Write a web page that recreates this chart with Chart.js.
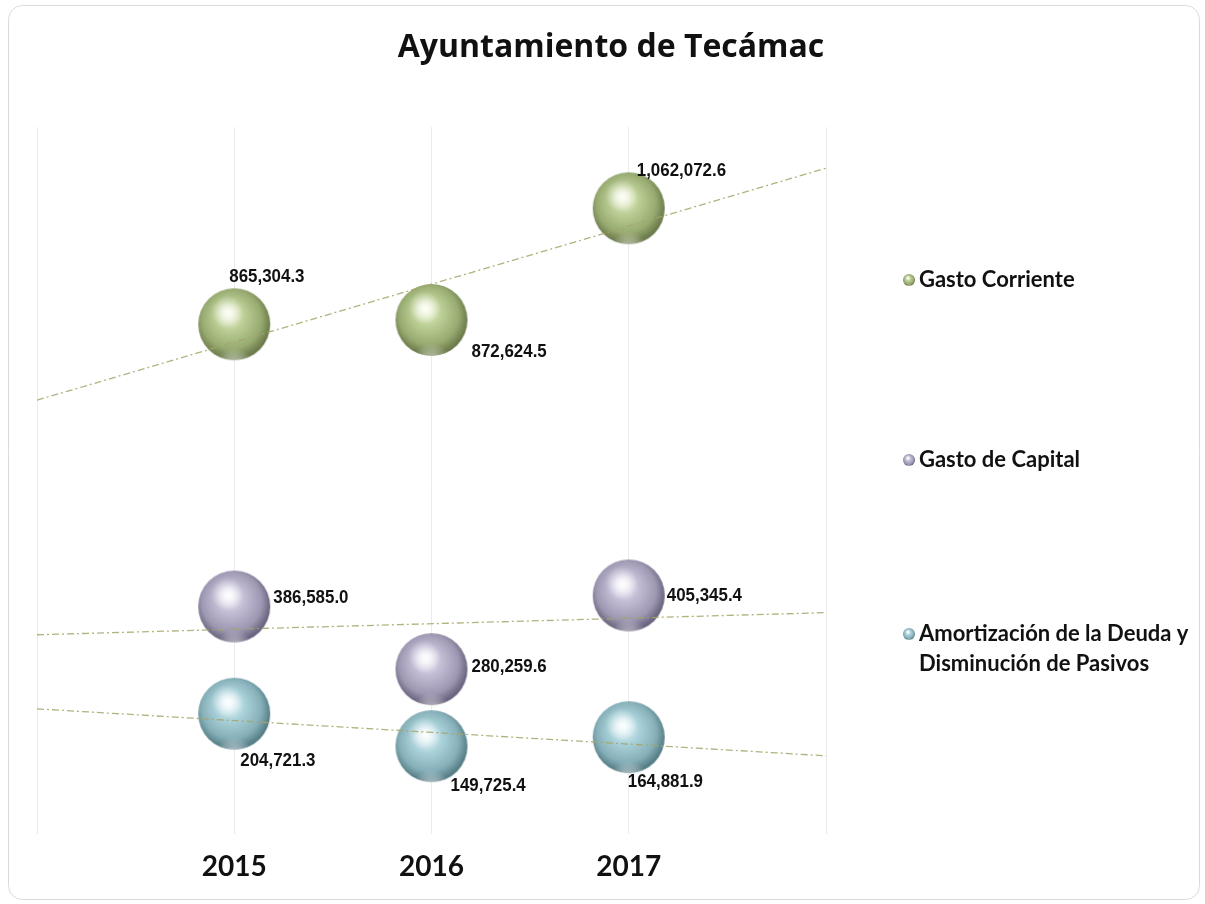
<!DOCTYPE html>
<html>
<head>
  <meta charset="utf-8" />
  <title>Ayuntamiento de Tecámac</title>
  <script src="https://cdn.jsdelivr.net/npm/chart.js"></script>
  <style>
    html, body { margin: 0; padding: 0; background: #ffffff; }
    #wrap { position: relative; width: 1205px; height: 904px; }
  </style>
</head>
<body>
  <div id="wrap"><canvas id="chart"></canvas></div>
  <script>
    // data
    const years = [2015, 2016, 2017];
    const gastoCorriente = [865304.3, 872624.5, 1062072.6];
    const gastoCapital = [386585.0, 280259.6, 405345.4];
    const amortizacion = [204721.3, 149725.4, 164881.9];
    const seriesNames = ['Gasto Corriente', 'Gasto de Capital', ['Amortización de la Deuda y', 'Disminución de Pasivos']];
    const yearTicks = ['2015', '2016', '2017'];
    const chartTitle = 'Ayuntamiento de Tecámac';

    // label placement relative to the bubble centre [dx to text left, dy to text middle]
    const labelOffsets = [
      [[-5, -48], [40, 32], [8, -38]],
      [[39, -9], [40, -2], [38, 0]],
      [[6, 47], [19, 40], [-1, 45]]
    ];
    const legendY = [280, 460, 634];

    // sphere look for each series: highlight, body, shade, edge
    const sphereColors = [
      ['#f3f7dc', '#bccf96', '#97aa70', '#6d7c4c'],
      ['#f7f5fb', '#c3bdd5', '#9f98b3', '#6b6580'],
      ['#eef9fb', '#acd3db', '#86b0b9', '#587f88']
    ];

    function makeSphere(cols, r) {
      const pad = 2;
      const c = document.createElement('canvas');
      c.width = c.height = Math.ceil(2 * r + 2 * pad);
      const g = c.getContext('2d');
      const cx = c.width / 2, cy = c.height / 2;
      // body
      let grad = g.createRadialGradient(cx - r * 0.15, cy - r * 0.3, r * 0.05, cx - r * 0.05, cy - r * 0.1, r * 1.05);
      grad.addColorStop(0, cols[0]);
      grad.addColorStop(0.35, cols[1]);
      grad.addColorStop(0.78, cols[2]);
      grad.addColorStop(1, cols[3]);
      g.beginPath(); g.arc(cx, cy, r, 0, Math.PI * 2); g.fillStyle = grad; g.fill();
      // light rim reflected at the bottom
      g.save();
      g.beginPath(); g.arc(cx, cy, r, 0, Math.PI * 2); g.clip();
      grad = g.createRadialGradient(cx, cy + r * 1.2, r * 0.1, cx, cy + r * 1.2, r * 0.55);
      grad.addColorStop(0, 'rgba(255,255,255,0.6)');
      grad.addColorStop(1, 'rgba(255,255,255,0)');
      g.fillStyle = grad; g.fillRect(0, 0, c.width, c.height);
      g.restore();
      // specular spot
      grad = g.createRadialGradient(cx - r * 0.2, cy - r * 0.35, 0, cx - r * 0.2, cy - r * 0.35, r * 0.45);
      grad.addColorStop(0, 'rgba(255,255,255,0.8)');
      grad.addColorStop(1, 'rgba(255,255,255,0)');
      g.beginPath(); g.arc(cx, cy, r, 0, Math.PI * 2); g.fillStyle = grad; g.fill();
      return c;
    }

    const bigSpheres = sphereColors.map(c => makeSphere(c, 36));
    const smallSpheres = sphereColors.map(c => makeSphere(c, 6));

    // linear trendline across the full x range
    function trend(values, x0, x1) {
      const n = years.length;
      const mx = years.reduce((a, b) => a + b, 0) / n;
      const my = values.reduce((a, b) => a + b, 0) / n;
      let sxy = 0, sxx = 0;
      years.forEach((x, i) => { sxy += (x - mx) * (values[i] - my); sxx += (x - mx) * (x - mx); });
      const b = sxy / sxx;
      return [{ x: x0, y: my + b * (x0 - mx) }, { x: x1, y: my + b * (x1 - mx) }];
    }

    const allSeries = [gastoCorriente, gastoCapital, amortizacion];
    const datasets = [];
    allSeries.forEach((vals, i) => {
      datasets.push({
        type: 'scatter',
        label: Array.isArray(seriesNames[i]) ? seriesNames[i].join(' ') : seriesNames[i],
        data: vals.map((v, j) => ({ x: years[j], y: v })),
        pointStyle: bigSpheres[i],
        pointRadius: 36,
        order: 2
      });
    });
    allSeries.forEach((vals) => {
      datasets.push({
        type: 'line',
        label: 'trend',
        data: trend(vals, 2014, 2018),
        borderColor: 'rgba(165,165,105,0.85)',
        borderWidth: 1.3,
        borderDash: [7, 3, 2, 3],
        pointRadius: 0,
        fill: false,
        order: 0
      });
    });

    const fmt = v => v.toLocaleString('en-US', { minimumFractionDigits: 1, maximumFractionDigits: 1 });

    const decorPlugin = {
      id: 'decor',
      beforeDraw(chart) {
        const ctx = chart.ctx;
        ctx.save();
        ctx.strokeStyle = '#dadada';
        ctx.lineWidth = 1;
        ctx.beginPath();
        ctx.roundRect(8.5, 5.5, 1191, 894, 14);
        ctx.stroke();
        // title, centred on the whole picture
        ctx.font = 'bold 32px "Open Sans", Lato, sans-serif';
        ctx.fillStyle = '#111111';
        ctx.textAlign = 'center';
        ctx.textBaseline = 'alphabetic';
        ctx.fillText(chartTitle, 611, 57);
        ctx.restore();
      },
      afterDatasetsDraw(chart) {
        const ctx = chart.ctx;
        ctx.save();
        ctx.font = 'bold 19px "Liberation Sans", Arial, sans-serif';
        ctx.fillStyle = '#111111';
        ctx.textBaseline = 'middle';
        ctx.textAlign = 'left';
        allSeries.forEach((vals, i) => {
          const meta = chart.getDatasetMeta(i);
          meta.data.forEach((pt, j) => {
            const off = labelOffsets[i][j];
            // squeeze horizontally to get the narrow look
            ctx.save();
            ctx.translate(pt.x + off[0], pt.y + off[1]);
            ctx.scale(0.89, 1);
            ctx.fillText(fmt(vals[j]), 0, 0);
            ctx.restore();
          });
        });
        // legend on the right
        ctx.font = 'bold 22px Lato, "Open Sans", sans-serif';
        ctx.fillStyle = '#111111';
        seriesNames.forEach((name, i) => {
          const lines = Array.isArray(name) ? name : [name];
          const s = smallSpheres[i];
          ctx.drawImage(s, 909 - s.width / 2, legendY[i] - s.height / 2);
          lines.forEach((ln, k) => ctx.fillText(ln, 919, legendY[i] + k * 30));
        });
        ctx.restore();
      }
    };

    new Chart(document.getElementById('chart'), {
      data: { datasets },
      options: {
        responsive: true,
        maintainAspectRatio: false,
        animation: false,
        layout: { padding: { left: 36, right: 379, top: 127, bottom: 4 } },
        plugins: {
          legend: { display: false },
          tooltip: { enabled: false },
          title: { display: false }
        },
        scales: {
          x: {
            type: 'linear',
            min: 2014,
            max: 2018,
            ticks: {
              stepSize: 1,
              padding: 16,
              color: '#111111',
              font: { family: 'Lato', size: 28, weight: 'bold' },
              callback: v => yearTicks.includes(String(v)) ? String(v) : ''
            },
            grid: { color: '#ebebeb', drawTicks: false },
            border: { display: false }
          },
          y: {
            display: false,
            min: 0,
            max: 1200000
          }
        }
      },
      plugins: [decorPlugin]
    });
  </script>
</body>
</html>
